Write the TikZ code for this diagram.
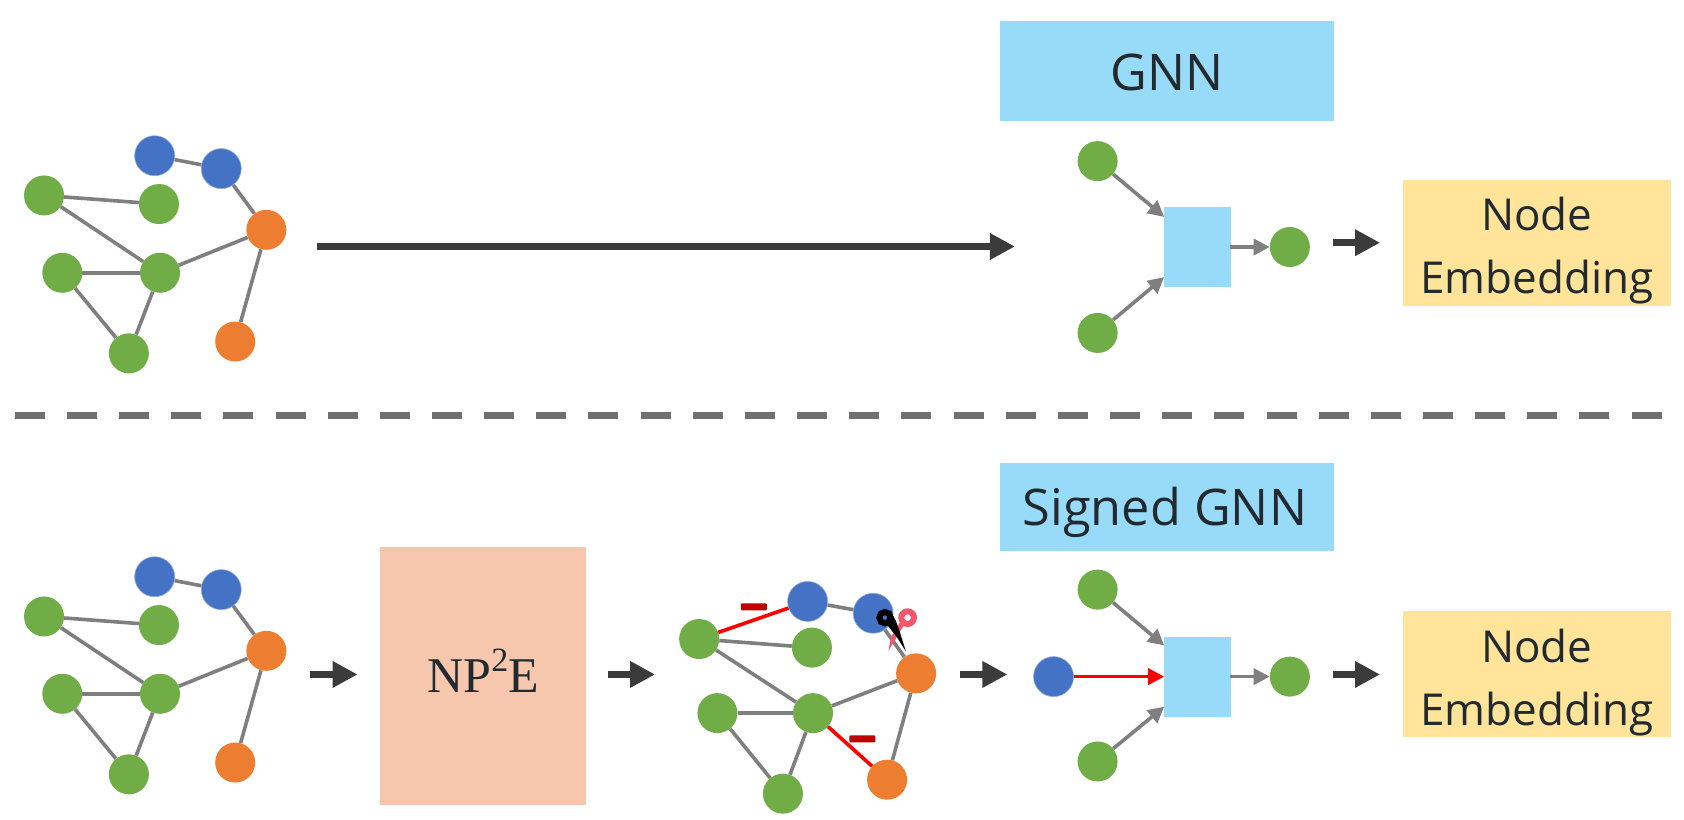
\documentclass[tikz,border=0pt]{standalone}
\usepackage{fontspec}
\setmainfont{Open Sans}
\newfontfamily\mathlike{Liberation Serif}
\usetikzlibrary{arrows.meta}
\definecolor{ngreen}{HTML}{70AD47}
\definecolor{nblue}{HTML}{4472C4}
\definecolor{norange}{HTML}{ED7D31}
\definecolor{skyb}{HTML}{97DBF9}
\definecolor{yel}{HTML}{FFE499}
\definecolor{peach}{HTML}{F6C7AD}
\definecolor{edgegray}{HTML}{7F7F7F}
\definecolor{arrowdark}{HTML}{3B3B3B}
\definecolor{dashgray}{HTML}{707070}
\definecolor{txt}{HTML}{222A30}
\definecolor{cutred}{HTML}{C00000}
\definecolor{scissor}{HTML}{F4566C}
\newcommand{\shifted}[2]{\raisebox{#1}[\height][\depth]{\begin{tabular}{@{}c@{}}#2\end{tabular}}}
\tikzset{x=1.074pt,y=-1.074pt,
 nd/.style={circle,minimum size=40pt,inner sep=0pt,draw=none},
 gn/.style={nd,fill=ngreen},
 bn/.style={nd,fill=nblue,draw=nblue!60!white,line width=.6pt},
 on/.style={nd,fill=norange},
 ed/.style={draw=edgegray,line width=3.6pt},
 redge/.style={draw=red,line width=3.6pt},
 mini/.style={draw=edgegray,line width=3.6pt,-{Triangle[length=16pt,width=16pt]}},
 minired/.style={draw=red,line width=3.6pt,-{Triangle[length=16pt,width=16pt]}},
 big/.style={draw=arrowdark,line width=7.5pt,-{Triangle[length=25pt,width=25pt]}},
 box/.style={inner sep=0pt,text=txt,align=center},
 title/.style={box,fill=skyb,font=\fontsize{50.5}{60}\selectfont},
 emb/.style={box,fill=yel,font=\fontsize{44}{63}\selectfont,minimum width=268.5pt,minimum height=124.5pt},
 sq/.style={fill=skyb,inner sep=0pt,minimum width=67pt,minimum height=80pt},
 minus/.style={fill=cutred,rounded corners=1pt,minimum width=26pt,minimum height=7pt,inner sep=0pt}
}
\newcommand{\graphat}[2]{%
 \begin{scope}[shift={(0,#1)}]
 \node[bn] (#2a) at (144,145) {};
 \node[bn] (#2b) at (206,157) {};
 \node[gn] (#2c) at (41,182) {};
 \node[gn] (#2d) at (148,190) {};
 \node[on] (#2e) at (248,214) {};
 \node[gn] (#2f) at (58,254) {};
 \node[gn] (#2g) at (149,254) {};
 \node[gn] (#2h) at (120,329) {};
 \node[on] (#2i) at (219,318) {};
 \draw[ed] (#2a)--(#2b); \draw[ed] (#2b)--(#2e); \draw[ed] (#2c)--(#2d);
 \draw[ed] (#2c)--(#2g); \draw[ed] (#2f)--(#2g); \draw[ed] (#2f)--(#2h);
 \draw[ed] (#2g)--(#2h); \draw[ed] (#2g)--(#2e); \draw[ed] (#2e)--(#2i);
 \end{scope}}
\begin{document}
\begin{tikzpicture}
\useasboundingbox (0,0) rectangle (1568,763.5);
\fill[white] (0,0) rectangle (1568,763.5);
\graphat{0}{t}
\graphat{392}{u}
% top row
\node[title,minimum width=334pt,minimum height=100pt] (gnn) at (1086.5,66.5) {\raisebox{-1pt}[\height][\depth]{GNN}};
\node[sq] (p1) at (1115,230) {};
\node[gn] (g1) at (1022,150) {};
\node[gn] (g2) at (1022,310) {};
\node[gn] (g3) at (1201,230) {};
\node[emb] (ne1) at (1431,226) {\shifted{-6.5pt}{Node\\Embedding}};
\coordinate (b1s) at (295,229.5);
\coordinate (b1e) at (945,229.5);
\draw[big] (b1s)--(b1e);
\coordinate (p1a) at (1084,202);
\coordinate (p1b) at (1084,258);
\coordinate (p1c) at (1145,230);
\draw[mini] (g1)--(p1a);
\draw[mini] (g2)--(p1b);
\draw[mini] (p1c)--(g3);
\coordinate (s1a) at (1241,226);
\coordinate (s1b) at (1285,226);
\draw[big] (s1a)--(s1b);
% separator
\coordinate (sepa) at (13.7,386.7);
\coordinate (sepb) at (1547.2,386.7);
\draw[draw=dashgray,line width=7pt,dash pattern=on 30pt off 22.16pt] (sepa)--(sepb);
% bottom row
\coordinate (s2a) at (289,628);
\coordinate (s2b) at (333,628);
\draw[big] (s2a)--(s2b);
\node[box,fill=peach,minimum width=206pt,minimum height=258pt,font=\fontsize{50}{56}\selectfont\mathlike] (np) at (450,629) {\raisebox{4.5pt}[\height][\depth]{NP\raisebox{.42em}{\fontsize{34}{34}\selectfont 2}E}};
\coordinate (s3a) at (566,628);
\coordinate (s3b) at (610,628);
\draw[big] (s3a)--(s3b);
% signed graph
\node[bn] (ma) at (752,560) {};
\node[bn] (mb) at (813,571) {};
\node[gn] (mc) at (651,595) {};
\node[gn] (md) at (756,603) {};
\node[on] (me) at (853,627) {};
\node[gn] (mf) at (668,664) {};
\node[gn] (mg) at (757,664) {};
\node[gn] (mh) at (729,739) {};
\node[on] (mi) at (826,726) {};
\draw[redge] (mc)--(ma);
\draw[ed] (ma)--(mb);
\draw[ed] (mb)--(me);
\draw[ed] (mc)--(md);
\draw[ed] (mc)--(mg);
\draw[ed] (mf)--(mg);
\draw[ed] (mf)--(mh);
\draw[ed] (mg)--(mh);
\draw[ed] (mg)--(me);
\draw[redge] (mg)--(mi);
\draw[ed] (me)--(mi);
\node[minus] (m1) at (702,565) {};
\node[minus] (m2) at (803,688) {};
% scissors (coordinates of a 3x crop)
\begin{scope}[shift={(800.7,554)},scale=.3104]
\fill[scissor] (120,82)--(131,92)--(108,130)--(85,168)--(94,125)--cycle;
\draw[scissor,line width=6pt,fill=white] (143,68) circle (19);
\fill[black] (90,45)--(108,78)--(120,112)--(138,170)--(112,128)--(78,85)--cycle;
\draw[black,line width=6pt,fill=nblue] (75,68) circle (17);
\end{scope}
\coordinate (s4a) at (894,628);
\coordinate (s4b) at (938,628);
\draw[big] (s4a)--(s4b);
\node[title,minimum width=334pt,minimum height=88pt] (sg) at (1086.5,472) {\raisebox{-5.5pt}[\height][\depth]{\kern-4pt Signed GNN}};
\node[sq] (p2) at (1115,630) {};
\node[gn] (h1) at (1022,549) {};
\node[gn] (h2) at (1022,709) {};
\node[bn] (h3) at (981,630) {};
\node[gn] (h4) at (1201,630) {};
\coordinate (p2a) at (1084,601);
\coordinate (p2b) at (1084,658);
\coordinate (p2c) at (1084,630);
\coordinate (p2d) at (1145,630);
\draw[mini] (h1)--(p2a);
\draw[mini] (h2)--(p2b);
\draw[minired] (h3)--(p2c);
\draw[mini] (p2d)--(h4);
\coordinate (s5a) at (1241,628);
\coordinate (s5b) at (1285,628);
\draw[big] (s5a)--(s5b);
\node[emb] (ne2) at (1431,628) {\shifted{-6.5pt}{Node\\Embedding}};
\end{tikzpicture}
\end{document}
